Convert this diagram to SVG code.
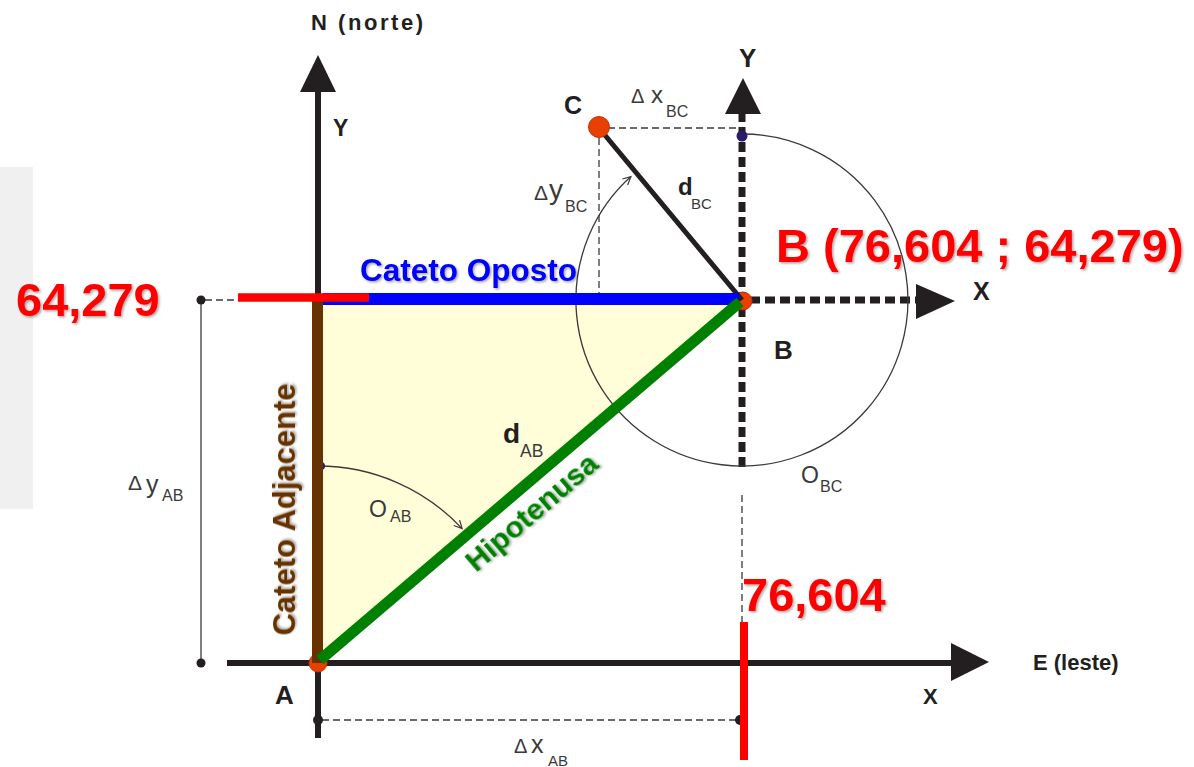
<svg xmlns="http://www.w3.org/2000/svg" width="1194" height="767" viewBox="0 0 1194 767">
<style>
.lbl{font-family:"Liberation Sans",Arial,sans-serif;font-weight:bold;fill:#231f20}
.reg{font-family:"Liberation Sans",Arial,sans-serif;fill:#3a3a3a}
.red{font-family:"Liberation Sans",Arial,sans-serif;font-weight:bold;fill:#ff0000;font-size:47px}
.thin{fill:none;stroke:#3a3a3a;stroke-width:1.3}
.dash{fill:none;stroke:#3a3a3a;stroke-width:1.3;stroke-dasharray:7 4}
.thick{fill:none;stroke:#231f20;stroke-width:6}
.bdash{fill:none;stroke:#231f20;stroke-width:7;stroke-dasharray:10 5}
.pt{fill:#e84000;stroke:#c83000;stroke-width:1}
.dot{fill:#231f20}
.ndot{fill:#2b1b6b}
</style>
<defs>
<filter id="sh" x="-10%" y="-20%" width="130%" height="150%">
<feDropShadow dx="1.5" dy="1.5" stdDeviation="1" flood-color="#000" flood-opacity="0.35"/>
</filter>
<marker id="open" markerWidth="12" markerHeight="12" refX="9" refY="5" orient="auto" markerUnits="userSpaceOnUse">
<path d="M1,1 L9,5 L1,9" fill="none" stroke="#3a3a3a" stroke-width="1.2"/>
</marker>
</defs>
<rect x="0" y="167" width="33" height="342" fill="#f0f0f0"/>
<g id="triangle">
<polygon points="318,300 742,300 318,663" fill="#fffed8"/>
</g>
<g id="axes">
<line class="thick" x1="318" y1="90" x2="318" y2="738"/>
<polygon points="318,55 300,92 336,92" fill="#231f20"/>
<line class="thick" x1="227" y1="663" x2="953" y2="663"/>
<polygon points="989,662 951,643 951,681" fill="#231f20"/>
<line class="bdash" x1="742" y1="467" x2="742" y2="112"/>
<polygon points="743,78 725,114 761,114" fill="#231f20"/>
<line class="bdash" x1="750" y1="300" x2="918" y2="300"/>
<polygon points="955,301 916,284 916,319" fill="#231f20"/>
</g>
<g id="connectors">
<path class="thin" d="M742,134 A166,166 0 1 1 630.9,176.6" marker-end="url(#open)"/>
<path class="thin" d="M318,466 A197,197 0 0 1 462.1,528.6" marker-end="url(#open)"/>
<line class="dash" x1="608" y1="128" x2="742" y2="128"/>
<line class="dash" x1="599" y1="138" x2="599" y2="294"/>
<line class="thin" x1="201" y1="300" x2="201" y2="663"/>
<line class="dash" x1="205" y1="300" x2="240" y2="300"/>
<line class="dash" x1="322" y1="720" x2="740" y2="720"/>
<line class="dash" x1="742" y1="495" x2="742" y2="622" stroke-dasharray="5 4"/>
<circle class="dot" cx="201" cy="300" r="4.5"/>
<circle class="dot" cx="201" cy="663" r="4.5"/>
<circle class="dot" cx="318" cy="720" r="5"/>
<circle class="dot" cx="740" cy="720" r="5"/>
<circle class="ndot" cx="742" cy="136" r="5.5"/>
<circle class="ndot" cx="321" cy="466" r="4"/>
</g>
<g id="points">
<circle class="pt" cx="318" cy="663" r="9"/>
<circle class="pt" cx="743" cy="301" r="9"/>
</g>
<g id="sides">
<line x1="599" y1="128" x2="742" y2="300" stroke="#231f20" stroke-width="5"/>
<line x1="317.5" y1="300" x2="317.5" y2="663" stroke="#663300" stroke-width="11"/>
<line x1="323" y1="299" x2="739" y2="299" stroke="#0000ff" stroke-width="12"/>
<line x1="238" y1="297.5" x2="369" y2="297.5" stroke="#ff0000" stroke-width="8.5"/>
<line x1="320" y1="660" x2="740" y2="302" stroke="#008000" stroke-width="11"/>
<line x1="744" y1="622" x2="744" y2="760" stroke="#ff0000" stroke-width="8"/>
</g>
<g id="pointC">
<circle class="pt" cx="599" cy="127" r="10.5"/>
<text class="lbl" x="564" y="114" font-size="25">C</text>
</g>
<g id="pointA">
<text class="lbl" x="275" y="704" font-size="26">A</text>
</g>
<g id="pointB">
<text class="lbl" x="774" y="359" font-size="26">B</text>
<text class="red" x="776" y="262" filter="url(#sh)">B (76,604 ; 64,279)</text>
</g>
<g id="labels">
<text class="lbl" x="311" y="30" font-size="22" textLength="112" lengthAdjust="spacing">N (norte)</text>
<text class="lbl" x="333" y="136" font-size="23">Y</text>
<text class="lbl" x="739" y="67" font-size="26">Y</text>
<text class="lbl" x="973" y="300" font-size="25">X</text>
<text class="lbl" x="923" y="704" font-size="22">X</text>
<text class="lbl" x="1033" y="670" font-size="22">E (leste)</text>
<text class="reg" x="631" y="103" font-size="20">Δ</text>
<text class="reg" x="651" y="103" font-size="24">x</text>
<text class="reg" x="666" y="116.7" font-size="16">BC</text>
<text class="reg" x="534" y="200" font-size="21">Δ</text>
<text class="reg" x="549" y="199" font-size="28">y</text>
<text class="reg" x="565" y="211.7" font-size="16">BC</text>
<text class="lbl" x="678" y="195" font-size="24">d</text>
<text class="reg" x="691" y="209" font-size="15">BC</text>
<text class="lbl" x="503" y="443" font-size="28">d</text>
<text class="reg" x="520" y="457" font-size="17.5">AB</text>
<text class="reg" x="369" y="516.7" font-size="23">O</text>
<text class="reg" x="390" y="521.7" font-size="16">AB</text>
<text class="reg" x="801" y="483" font-size="23">O</text>
<text class="reg" x="820" y="491.7" font-size="16">BC</text>
<text class="reg" x="128" y="490" font-size="21">Δ</text>
<text class="reg" x="146" y="493" font-size="25">y</text>
<text class="reg" x="162" y="500.7" font-size="16">AB</text>
<text class="reg" x="514" y="752.7" font-size="20">Δ</text>
<text class="reg" x="531" y="752.7" font-size="25">x</text>
<text class="reg" x="548" y="766" font-size="15">AB</text>
<text class="red" x="16" y="316" filter="url(#sh)">64,279</text>
<text class="red" x="742" y="610.7" filter="url(#sh)">76,604</text>
<text x="360" y="281" font-family="Liberation Sans,Arial,sans-serif" font-weight="bold" font-size="31.5" fill="#0000ff" filter="url(#sh)">Cateto Oposto</text>
<text transform="translate(295,509.5) rotate(-90)" text-anchor="middle" font-family="Liberation Sans,Arial,sans-serif" font-weight="bold" font-size="31" fill="#663300" filter="url(#sh)">Cateto Adjacente</text>
<text transform="translate(516,494) rotate(-40.55)" x="0" y="34" text-anchor="middle" font-family="Liberation Sans,Arial,sans-serif" font-weight="bold" font-size="30" fill="#008000" filter="url(#sh)">Hipotenusa</text>
</g>
</svg>
